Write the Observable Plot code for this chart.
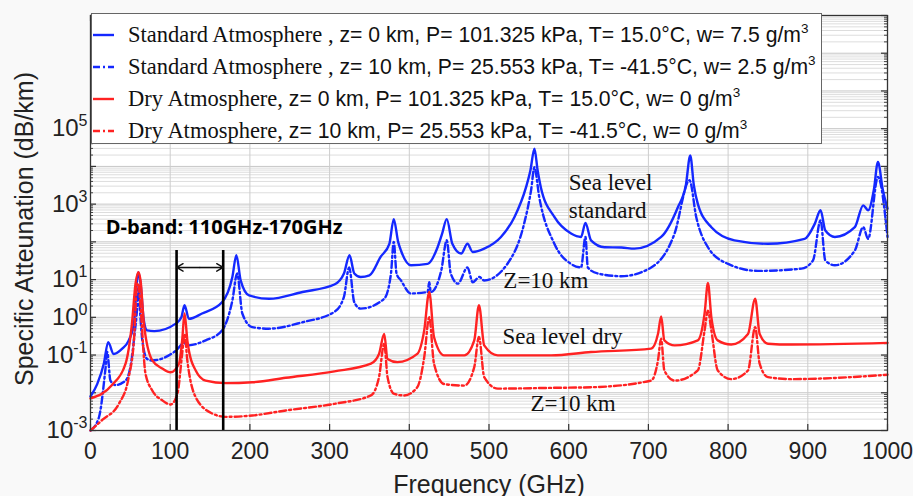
<!DOCTYPE html>
<html><head><meta charset="utf-8">
<script src="https://cdn.jsdelivr.net/npm/d3@7"></script>
<script src="https://cdn.jsdelivr.net/npm/@observablehq/plot@0.6"></script>
<style>
body{margin:0;background:#f9f9f9;}
#wrap{position:relative;width:913px;height:496px;}
#legend{position:absolute;left:91px;top:13px;width:731px;height:131px;background:#fff;border:1.5px solid #666;box-sizing:border-box;padding-top:5px;}
.row{height:32px;display:flex;align-items:center;white-space:nowrap;color:#111;}
.row svg{margin-left:1px;margin-right:14px;flex:none;}
.serif{font-family:"Liberation Serif";font-size:22.5px;}
.sans{font-family:"Liberation Sans";font-size:21.2px;}
sup{font-size:13.5px;line-height:0;vertical-align:9px;}
</style></head><body><div id="wrap"></div>
<script>
// ---- data (frequency in GHz, specific attenuation in dB/km) ----
const stdSeaFreq = [0,8.4,16.7,22.2,29,39.8,48,54.5,58,60,62.8,67,71,80,107,114,118,123.5,140,165,178,183,188.4,199,224,266,306,318,325,331,339,350,364,375,380.5,386,389.5,402,423,435.5,441,447,454,465,473,479.5,494,515,532,546.5,552,557,561,565,582,603,615.5,621,628,645,666,682.5,716,737,747,752.5,757,762,779,808,850,896,908.7,916,922,934,959,969.5,975.7,983,988,994,1000];
const stdSeaAtt = [0.008,0.017,0.059,0.22,0.107,0.148,0.245,0.68,7.9,15.8,7.9,0.8,0.45,0.43,0.68,1.0,2.1,0.91,1.26,2.5,11.7,44,9.5,3.8,3.1,4.7,7.4,14.5,44,14.5,11.7,13,40,89,400,100,59,24,26,72,160,400,89,49,89,54,66,135,457,2820,7900,29500,7900,2820,457,166,135,316,110,72,71,66,135,830,3160,19500,3160,1020,245,110,89,120,300,690,200,135,245,930,690,2500,13200,2500,760];

const std10Freq = [0,10.5,19,21,25,31.4,44,52,55,58.6,60,62,65,71,77.5,107,118,121,144.5,165,178,184,190.5,203,224,266,306,318,324.5,331,339,368.5,377,380.5,384,389.5,402,423,425,427,440,447,452,461,473,479.5,488,494,523,544,552.8,557,563,582,603,615.5,621,624,636.5,666,703.5,732.8,751.6,760,774.7,800,837.5,892,906.5,916,922,934,959,969.5,975.7,988,1000];
const std10Att = [0.001,0.0022,0.048,0.12,0.021,0.016,0.021,0.087,0.32,1.9,6.3,1.6,0.245,0.079,0.072,0.13,0.21,0.18,0.245,0.45,2.8,14.5,1.26,0.55,0.5,0.74,1.4,3.5,21,2.5,1.7,3.1,14.5,100,14.5,9.5,4.3,4.7,8.5,4.7,17,110,14.5,7.8,21,8.5,11.7,9.5,26,300,2340,9500,1550,89,26,21,135,21,14.5,12.3,21,166,4300,457,72,26,17,19.5,32,370,32,24,59,245,120,5250,135];

const drySeaFreq = [0,27,44,52,56.5,60,62.8,67,77.5,90,100.5,111,115,118,121.5,123.5,132,144.5,169.6,203,245,306,351.8,362,368.5,372.7,385,410,418.7,425,431,443.7,469,481.5,487.4,494,511,578,628,703.5,712,716,720,733,762,770.5,774.7,779,787,804,825,834,839.6,850,879.4,1000];
const drySeaAtt = [0.0071,0.016,0.059,0.68,7.8,15.8,9.5,0.68,0.072,0.044,0.035,0.059,0.245,1.26,0.245,0.13,0.039,0.021,0.018,0.019,0.025,0.037,0.059,0.107,0.36,0.079,0.065,0.107,0.45,4.7,0.3,0.098,0.098,0.245,2.1,0.18,0.098,0.098,0.12,0.148,0.36,1.05,0.245,0.18,0.245,1.26,8.1,1.0,0.245,0.19,0.36,3.1,0.36,0.2,0.19,0.21];

const dry10Freq = [0,14.7,35.6,48,54.5,58.6,60,62.8,69,77.5,90,100.5,109,115,118,121.5,132,153,169.6,203,245,306,351.8,362,368.5,372.7,381,393.6,410,418.7,425,431,443.7,469,481.5,487.4,494,511,578,628,703.5,712,716,720,733,762,770.5,774.7,779,787,804,825,834,839.6,850,879.4,1000];
const dry10Att = [0.001,0.0019,0.0051,0.026,0.245,7.8,7.9,1.9,0.032,0.0115,0.0063,0.0049,0.0093,0.107,0.36,0.072,0.0076,0.0028,0.0023,0.0025,0.0034,0.0051,0.0085,0.026,0.2,0.026,0.0093,0.0085,0.014,0.087,1.0,0.059,0.017,0.0155,0.048,0.3,0.026,0.0129,0.0135,0.014,0.021,0.072,0.27,0.039,0.021,0.039,0.45,1.5,0.45,0.039,0.023,0.039,0.55,0.059,0.026,0.023,0.030];

const freqTicks = [0,100,200,300,400,500,600,700,800,900,1000];
const attTickLabels = [1e-3,1e-1,1,10,1e3,1e5];

const legendNames = ["Standard Atmosphere ,","Standard Atmosphere ,","Dry Atmosphere,","Dry Atmosphere,"];
const legendParams = [" z= 0 km, P= 101.325 kPa, T= 15.0°C, w= 7.5 g/m"," z= 10 km, P= 25.553 kPa, T= -41.5°C, w= 2.5 g/m"," z= 0 km, P= 101.325 kPa, T= 15.0°C, w= 0 g/m"," z= 10 km, P= 25.553 kPa, T= -41.5°C, w= 0 g/m"];

const annoText = ["Sea level","standard","Z=10 km","Sea level dry","Z=10 km"];
const annoFreq = [600,600,518,517,552];
const annoAtt = [3800,690,9.5,0.3,0.0052];

const bandLabel = "D-band: 110GHz-170GHz";
const bandEdges = [108,166.5];
const bandTop = 59;
const bandArrowLevel = 21;

// ---- styling ----
const BLUE = "#1428ff", RED = "#ff2222";
const DASHDOT = "7,3,2,3";
const series = [
  {f: stdSeaFreq, a: stdSeaAtt, color: BLUE, dash: null},
  {f: std10Freq, a: std10Att, color: BLUE, dash: DASHDOT},
  {f: drySeaFreq, a: drySeaAtt, color: RED, dash: null},
  {f: dry10Freq, a: dry10Att, color: RED, dash: DASHDOT}
];
const toRows = s => s.f.map((f, i) => ({f, v: s.a[i]}));

const majorDecades = d3.range(-3, 9).map(k => Math.pow(10, k));
const minorVals = [];
for (let k = -3; k < 8; k++) for (let m = 2; m <= 9; m++) minorVals.push(m * Math.pow(10, k));

const W = 913, H = 496, ML = 90, MR = 26, MT = 15, MB = 66;
const PW = W - ML - MR, PH = H - MT - MB;

const lineMarks = series.map(s => Plot.line(toRows(s), {
  x: "f", y: "v", stroke: s.color, strokeWidth: 2.4, curve: "monotone-x",
  strokeDasharray: s.dash || undefined
}));

const plot = Plot.plot({
  width: W, height: H,
  marginLeft: ML, marginRight: MR, marginTop: MT, marginBottom: MB,
  style: {fontFamily: "Liberation Sans", background: "transparent", overflow: "visible", color: "#222"},
  x: {domain: [0, 1000], label: null},
  y: {type: "log", domain: [1e-3, 1e8], label: null},
  marks: [
    Plot.frame({fill: "#ffffff"}),
    Plot.ruleY(minorVals, {stroke: "#dddddd", strokeWidth: 1}),
    Plot.ruleY(majorDecades, {stroke: "#c6c6c6", strokeWidth: 1}),
    Plot.ruleX(freqTicks, {stroke: "#cdcdcd", strokeWidth: 1}),
    // inward ticks
    Plot.ruleX(freqTicks, {insetTop: PH - 6, stroke: "#333", strokeWidth: 1.2}),
    Plot.ruleX(freqTicks, {insetBottom: PH - 6, stroke: "#333", strokeWidth: 1.2}),
    Plot.ruleY(majorDecades, {insetRight: PW - 6, stroke: "#333", strokeWidth: 1.2}),
    Plot.ruleY(majorDecades, {insetLeft: PW - 6, stroke: "#333", strokeWidth: 1.2}),
    Plot.ruleY(minorVals, {insetRight: PW - 3, stroke: "#444", strokeWidth: 1}),
    Plot.ruleY(minorVals, {insetLeft: PW - 3, stroke: "#444", strokeWidth: 1}),
    ...lineMarks,
    // D-band bracket
    Plot.ruleX(bandEdges, {y1: 1e-3, y2: bandTop, stroke: "#000", strokeWidth: 2.6}),
    Plot.arrow(bandEdges, {x1: d3.mean(bandEdges), x2: d => d, y1: bandArrowLevel, y2: bandArrowLevel, stroke: "#111", strokeWidth: 1.4, headLength: 8}),
    Plot.text([bandLabel], {x: 19, y: 240, text: d => d, textAnchor: "start", fontSize: 20, fontWeight: "bold", fontFamily: "Open Sans", fill: "#000"}),
    Plot.text(annoText, {x: (d, i) => annoFreq[i], y: (d, i) => annoAtt[i], text: d => d, textAnchor: "start", fontSize: 23, fontFamily: "Liberation Serif", fill: "#111"}),
    Plot.frame({stroke: "#333", strokeWidth: 1.3}),
    Plot.axisX({ticks: freqTicks, tickSize: 0, tickPadding: 12, fontSize: 23, label: null, tickFormat: d => String(d)}),
    Plot.axisY({ticks: attTickLabels, tickSize: 0, tickPadding: 3, fontSize: 24, label: null, tickFormat: d => "10^" + Math.round(Math.log10(d))}),
    Plot.text(["Frequency (GHz)"], {frameAnchor: "bottom", dy: 54, lineAnchor: "middle", textAnchor: "middle", text: d => d, fontSize: 25, fill: "#222"}),
    Plot.text(["Specific Atteunation (dB/km)"], {frameAnchor: "left", dx: -66, dy: 6, rotate: -90, textAnchor: "middle", lineAnchor: "middle", text: d => d, fontSize: 25, fill: "#222"})
  ]
});

// superscript exponents on y tick labels
const NS = "http://www.w3.org/2000/svg";
plot.querySelectorAll("text").forEach(t => {
  const s = t.textContent;
  if (!/^10\^/.test(s)) return;
  const [b, e] = s.split("^");
  t.textContent = "";
  const tb = document.createElementNS(NS, "tspan"); tb.textContent = b;
  const te = document.createElementNS(NS, "tspan"); te.textContent = e;
  te.setAttribute("dy", "-10"); te.setAttribute("font-size", "16");
  t.append(tb, te);
});

const wrap = document.getElementById("wrap");
wrap.append(plot);

// legend overlay
const legend = document.createElement("div");
legend.id = "legend";
series.forEach((s, i) => {
  const row = document.createElement("div");
  row.className = "row";
  row.innerHTML = `<svg width="21" height="6"><line x1="0" x2="21" y1="3" y2="3" stroke="${s.color}" stroke-width="2.4" ${s.dash ? `stroke-dasharray="${s.dash}"` : ""}/></svg>` +
    `<span><span class="serif">${legendNames[i]}</span><span class="sans">${legendParams[i]}<sup>3</sup></span></span>`;
  legend.append(row);
});
wrap.append(legend);
</script></body></html>
